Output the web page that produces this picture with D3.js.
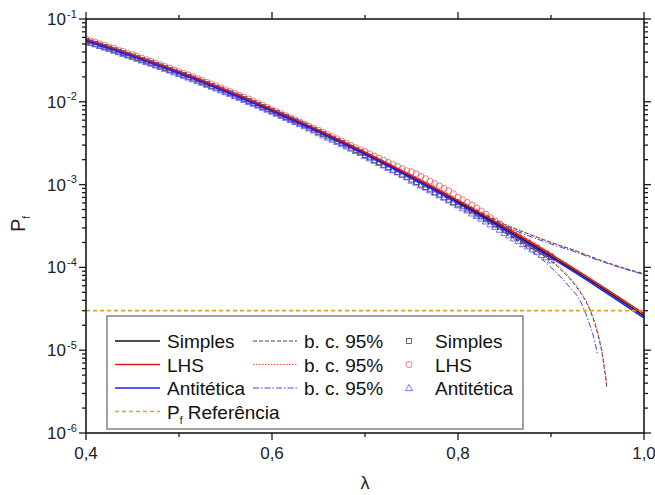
<!DOCTYPE html>
<html>
<head>
<meta charset="utf-8">
<script src="https://cdn.jsdelivr.net/npm/d3@7/dist/d3.min.js"></script>
<style>
  html, body { margin: 0; padding: 0; background: #fff; }
  svg { display: block; font-family: "Liberation Sans", Arial, sans-serif; }
</style>
</head>
<body>
<svg id="chart" width="655" height="495"></svg>
<script>
// ---- data -------------------------------------------------------------
// fitted curves, lambda every 0.05
const lineLambda = [0.40, 0.45, 0.50, 0.55, 0.60, 0.65, 0.70, 0.75, 0.80, 0.85, 0.90, 0.95, 1.00];
const simplesLine = [5.55e-2, 3.60e-2, 2.25e-2, 1.35e-2, 7.85e-3, 4.40e-3, 2.37e-3, 1.23e-3, 6.17e-4, 2.96e-4, 1.37e-4, 6.1e-5, 2.6e-5];
const lhsLine     = [5.65e-2, 3.66e-2, 2.30e-2, 1.39e-2, 8.10e-3, 4.55e-3, 2.46e-3, 1.28e-3, 6.40e-4, 3.08e-4, 1.44e-4, 6.4e-5, 2.75e-5];
const antiLine    = [5.48e-2, 3.55e-2, 2.22e-2, 1.33e-2, 7.75e-3, 4.33e-3, 2.33e-3, 1.20e-3, 5.98e-4, 2.85e-4, 1.31e-4, 5.8e-5, 2.45e-5];

// 95% confidence bounds
const upperLambda = [0.40, 0.50, 0.60, 0.70, 0.75, 0.80, 0.825, 0.85, 0.875, 0.90, 0.925, 0.95, 0.975, 1.00];
const simplesUpper = [5.70e-2, 2.31e-2, 8.05e-3, 2.44e-3, 1.27e-3, 6.48e-4, 4.60e-4, 3.30e-4, 2.55e-4, 2.00e-4, 1.61e-4, 1.26e-4, 1.01e-4, 8.4e-5];
const lhsUpper     = [5.78e-2, 2.35e-2, 8.20e-3, 2.50e-3, 1.31e-3, 6.65e-4, 4.70e-4, 3.36e-4, 2.58e-4, 2.01e-4, 1.60e-4, 1.25e-4, 1.00e-4, 8.3e-5];
const antiUpper    = [5.60e-2, 2.27e-2, 7.90e-3, 2.38e-3, 1.23e-3, 6.25e-4, 4.45e-4, 3.18e-4, 2.43e-4, 1.92e-4, 1.55e-4, 1.23e-4, 9.9e-5, 8.2e-5];

const lowerLambda = [0.40, 0.50, 0.60, 0.70, 0.75, 0.80, 0.825, 0.85, 0.875, 0.90, 0.92, 0.93, 0.94, 0.95, 0.955, 0.96];
const simplesLower = [5.40e-2, 2.19e-2, 7.65e-3, 2.30e-3, 1.19e-3, 5.90e-4, 4.05e-4, 2.70e-4, 1.80e-4, 1.20e-4, 7.3e-5, 5.3e-5, 3.4e-5, 1.6e-5, 9.0e-6, 3.6e-6];
const lhsLower     = [5.52e-2, 2.25e-2, 7.80e-3, 2.36e-3, 1.22e-3, 6.05e-4, 4.15e-4, 2.78e-4, 1.86e-4, 1.24e-4, 7.6e-5, 5.5e-5, 3.5e-5, 1.7e-5, 9.5e-6, 4.0e-6];
const antiLowerLambda = [0.40, 0.50, 0.60, 0.70, 0.75, 0.80, 0.825, 0.85, 0.875, 0.90, 0.92, 0.93, 0.94, 0.945, 0.95];
const antiLower    = [5.32e-2, 2.16e-2, 7.55e-3, 2.26e-3, 1.16e-3, 5.72e-4, 3.92e-4, 2.62e-4, 1.70e-4, 1.00e-4, 5.8e-5, 4.2e-5, 2.3e-5, 1.55e-5, 9.0e-6];

// simulated estimates, lambda = 0.400 ... 0.900 every 0.005
const pointLambda = d3.range(0, 101).map(i => +(0.4 + i * 0.005).toFixed(3));
const simplesPts = [
  5.46e-2, 5.20e-2, 5.01e-2, 4.78e-2, 4.60e-2, 4.41e-2, 4.20e-2, 4.04e-2, 3.86e-2, 3.68e-2,
  3.53e-2, 3.37e-2, 3.21e-2, 3.08e-2, 2.94e-2, 2.80e-2, 2.68e-2, 2.55e-2, 2.43e-2, 2.32e-2,
  2.20e-2, 2.11e-2, 2.00e-2, 1.91e-2, 1.81e-2, 1.72e-2, 1.64e-2, 1.55e-2, 1.48e-2, 1.41e-2,
  1.33e-2, 1.27e-2, 1.19e-2, 1.14e-2, 1.08e-2, 1.02e-2, 9.65e-3, 9.18e-3, 8.64e-3, 8.20e-3,
  7.72e-3, 7.33e-3, 6.90e-3, 6.55e-3, 6.15e-3, 5.82e-3, 5.48e-3, 5.19e-3, 4.86e-3, 4.60e-3,
  4.31e-3, 4.08e-3, 3.82e-3, 3.60e-3, 3.37e-3, 3.18e-3, 2.97e-3, 2.79e-3, 2.61e-3, 2.46e-3,
  2.27e-3, 2.13e-3, 1.98e-3, 1.86e-3, 1.73e-3, 1.62e-3, 1.51e-3, 1.42e-3, 1.32e-3, 1.24e-3,
  1.15e-3, 1.07e-3, 1.00e-3, 9.30e-4, 8.75e-4, 8.05e-4, 7.60e-4, 7.00e-4, 6.60e-4, 6.10e-4,
  5.75e-4, 5.45e-4, 5.00e-4, 4.75e-4, 4.35e-4, 4.12e-4, 3.80e-4, 3.60e-4, 3.30e-4, 3.12e-4,
  2.85e-4, 2.70e-4, 2.45e-4, 2.30e-4, 2.10e-4, 1.98e-4, 1.80e-4, 1.70e-4, 1.55e-4, 1.45e-4, 1.33e-4
];
const lhsPts = [
  5.70e-2, 5.45e-2, 5.25e-2, 5.01e-2, 4.82e-2, 4.60e-2, 4.43e-2, 4.22e-2, 4.05e-2, 3.86e-2,
  3.70e-2, 3.53e-2, 3.38e-2, 3.22e-2, 3.09e-2, 2.94e-2, 2.81e-2, 2.67e-2, 2.56e-2, 2.43e-2,
  2.32e-2, 2.21e-2, 2.11e-2, 2.00e-2, 1.91e-2, 1.81e-2, 1.72e-2, 1.64e-2, 1.56e-2, 1.48e-2,
  1.40e-2, 1.33e-2, 1.26e-2, 1.20e-2, 1.14e-2, 1.08e-2, 1.02e-2, 9.58e-3, 9.05e-3, 8.55e-3,
  8.04e-3, 7.60e-3, 7.18e-3, 6.79e-3, 6.40e-3, 6.05e-3, 5.71e-3, 5.38e-3, 5.07e-3, 4.78e-3,
  4.55e-3, 4.28e-3, 4.03e-3, 3.79e-3, 3.57e-3, 3.36e-3, 3.15e-3, 2.97e-3, 2.79e-3, 2.62e-3,
  2.51e-3, 2.36e-3, 2.22e-3, 2.09e-3, 1.97e-3, 1.86e-3, 1.75e-3, 1.66e-3, 1.56e-3, 1.47e-3,
  1.43e-3, 1.35e-3, 1.26e-3, 1.18e-3, 1.10e-3, 1.03e-3, 9.60e-4, 9.00e-4, 8.40e-4, 7.80e-4,
  7.03e-4, 6.55e-4, 6.10e-4, 5.65e-4, 5.20e-4, 4.80e-4, 4.40e-4, 4.00e-4, 3.65e-4, 3.35e-4,
  3.00e-4, 2.78e-4, 2.58e-4, 2.38e-4, 2.20e-4, 2.04e-4, 1.88e-4, 1.74e-4, 1.60e-4, 1.48e-4, 1.37e-4
];
const antiPts = [
  5.40e-2, 5.16e-2, 4.95e-2, 4.74e-2, 4.53e-2, 4.35e-2, 4.16e-2, 3.98e-2, 3.80e-2, 3.64e-2,
  3.48e-2, 3.32e-2, 3.17e-2, 3.03e-2, 2.90e-2, 2.76e-2, 2.64e-2, 2.51e-2, 2.40e-2, 2.28e-2,
  2.18e-2, 2.07e-2, 1.97e-2, 1.88e-2, 1.78e-2, 1.70e-2, 1.61e-2, 1.53e-2, 1.46e-2, 1.38e-2,
  1.31e-2, 1.25e-2, 1.18e-2, 1.12e-2, 1.06e-2, 1.00e-2, 9.50e-3, 9.02e-3, 8.52e-3, 8.06e-3,
  7.62e-3, 7.20e-3, 6.80e-3, 6.42e-3, 6.06e-3, 5.72e-3, 5.40e-3, 5.09e-3, 4.79e-3, 4.51e-3,
  4.19e-3, 3.95e-3, 3.71e-3, 3.50e-3, 3.29e-3, 3.09e-3, 2.90e-3, 2.73e-3, 2.56e-3, 2.41e-3,
  2.22e-3, 2.08e-3, 1.95e-3, 1.83e-3, 1.71e-3, 1.60e-3, 1.50e-3, 1.41e-3, 1.32e-3, 1.23e-3,
  1.12e-3, 1.06e-3, 9.80e-4, 9.25e-4, 8.55e-4, 8.05e-4, 7.45e-4, 7.00e-4, 6.48e-4, 6.08e-4,
  5.65e-4, 5.20e-4, 4.90e-4, 4.50e-4, 4.20e-4, 3.90e-4, 3.60e-4, 3.32e-4, 3.10e-4, 2.86e-4,
  2.62e-4, 2.45e-4, 2.25e-4, 2.10e-4, 1.92e-4, 1.80e-4, 1.66e-4, 1.55e-4, 1.42e-4, 1.33e-4, 1.22e-4
];

const pfReference = 3.0e-5;

const xTicksMajor = [0.4, 0.6, 0.8, 1.0];
const xTicksMinor = [0.5, 0.7, 0.9];
const xTickLabels = ["0,4", "0,6", "0,8", "1,0"];
const yDecades = [1e-6, 1e-5, 1e-4, 1e-3, 1e-2, 1e-1];
const yExponents = ["-6", "-5", "-4", "-3", "-2", "-1"];

const legendRows = [
  { name: "Simples",    color: "#111111", band: "4,2",       bandColor: "#444444", marker: "square" },
  { name: "LHS",        color: "#e01818", band: "1.5,1.5",   bandColor: "#e04848", marker: "circle" },
  { name: "Antitética", color: "#2222ee", band: "6,2,1.5,2", bandColor: "#4444dd", marker: "triangle" }
];

// ---- layout -------------------------------------------------------------
const svg = d3.select("#chart");
const X0 = 86, X1 = 644, Y0 = 433, Y1 = 19;
const x = d3.scaleLinear().domain([0.4, 1.0]).range([X0, X1]);
const y = d3.scaleLog().domain([1e-6, 1e-1]).range([Y0, Y1]);

const plot = svg.append("g");
plot.append("clipPath").attr("id", "clip")
  .append("rect").attr("x", X0).attr("y", Y1).attr("width", X1 - X0).attr("height", Y0 - Y1);
const inner = plot.append("g").attr("clip-path", "url(#clip)");

const lineGen = (xs) => d3.line()
  .x((d, i) => x(xs[i]))
  .y(d => y(d))
  .curve(d3.curveMonotoneX);

// markers
const markerColor = { square: "#3a3a3a", circle: "#e85050", triangle: "#4a4ae8" };
function drawMarker(g, type, cx, cy) {
  if (type === "square") {
    g.append("rect").attr("x", cx - 2.4).attr("y", cy - 2.4).attr("width", 4.8).attr("height", 4.8)
      .attr("fill", "none").attr("stroke", markerColor.square).attr("stroke-width", 0.75);
  } else if (type === "circle") {
    g.append("circle").attr("cx", cx).attr("cy", cy).attr("r", 3.0)
      .attr("fill", "none").attr("stroke", markerColor.circle).attr("stroke-width", 0.75);
  } else {
    g.append("path").attr("d", d3.symbol(d3.symbolTriangle, 22)())
      .attr("transform", `translate(${cx},${cy + 0.6})`)
      .attr("fill", "none").attr("stroke", markerColor.triangle).attr("stroke-width", 0.75);
  }
}
const ptsG = inner.append("g");
[[lhsPts, "circle"], [simplesPts, "square"], [antiPts, "triangle"]].forEach(([vals, type]) => {
  vals.forEach((v, i) => drawMarker(ptsG, type, x(pointLambda[i]), y(v)));
});

// confidence bounds
const bands = [
  [upperLambda, simplesUpper, 0], [lowerLambda, simplesLower, 0],
  [upperLambda, lhsUpper, 1], [lowerLambda, lhsLower, 1],
  [upperLambda, antiUpper, 2], [antiLowerLambda, antiLower, 2]
];
bands.forEach(([xs, vals, r]) => {
  inner.append("path").attr("d", lineGen(xs)(vals))
    .attr("fill", "none").attr("stroke", legendRows[r].bandColor)
    .attr("stroke-width", 1).attr("stroke-dasharray", legendRows[r].band);
});

// fitted curves
[[simplesLine, 0], [lhsLine, 1], [antiLine, 2]].forEach(([vals, r]) => {
  inner.append("path").attr("d", lineGen(lineLambda)(vals))
    .attr("fill", "none").attr("stroke", legendRows[r].color).attr("stroke-width", 1.6);
});

// reference probability
inner.append("line")
  .attr("x1", X0).attr("x2", X1).attr("y1", y(pfReference)).attr("y2", y(pfReference))
  .attr("stroke", "#f39a1e").attr("stroke-width", 1.8).attr("stroke-dasharray", "4,3");

// ---- axes -------------------------------------------------------------
const axisColor = "#1a1a1a";
const axisG = svg.append("g");
axisG.append("rect").attr("x", X0).attr("y", Y1).attr("width", X1 - X0).attr("height", Y0 - Y1)
  .attr("fill", "none").attr("stroke", axisColor).attr("stroke-width", 1.6);

function tick(x1, y1, x2, y2) {
  axisG.append("line").attr("x1", x1).attr("y1", y1).attr("x2", x2).attr("y2", y2)
    .attr("stroke", axisColor).attr("stroke-width", 1.3);
}
xTicksMajor.forEach(v => { tick(x(v), Y0, x(v), Y0 + 7); tick(x(v), Y1, x(v), Y1 - 7); });
xTicksMinor.forEach(v => { tick(x(v), Y0, x(v), Y0 + 4); tick(x(v), Y1, x(v), Y1 - 4); });

yDecades.forEach((d, i) => {
  tick(X0, y(d), X0 - 7, y(d)); tick(X1, y(d), X1 + 7, y(d));
  if (i < yDecades.length - 1) {
    for (let m = 2; m <= 9; m++) {
      const yy = y(d * m);
      tick(X0, yy, X0 - 4, yy); tick(X1, yy, X1 + 4, yy);
    }
  }
});

// tick labels
xTicksMajor.forEach((v, i) => {
  svg.append("text").attr("x", x(v)).attr("y", 459).attr("text-anchor", "middle")
    .attr("font-size", 17).attr("fill", "#222").text(xTickLabels[i]);
});
yDecades.forEach((d, i) => {
  svg.append("text").attr("x", 66).attr("y", y(d) + 6)
    .attr("text-anchor", "end").attr("font-size", 17).attr("fill", "#222").text("10");
  svg.append("text").attr("x", 67).attr("y", y(d) - 1.5)
    .attr("font-size", 11).attr("fill", "#222").text(yExponents[i]);
});

// axis titles
svg.append("text").attr("x", (X0 + X1) / 2).attr("y", 489).attr("text-anchor", "middle")
  .attr("font-size", 18).attr("fill", "#222").text("λ");
const yt = svg.append("text").attr("transform", "translate(25,224) rotate(-90)")
  .attr("text-anchor", "middle").attr("font-size", 20).attr("fill", "#222");
yt.append("tspan").text("P");
yt.append("tspan").attr("font-size", 10).attr("dy", 5).text("f");

// ---- legend -------------------------------------------------------------
const lg = svg.append("g");
lg.append("rect").attr("x", 107).attr("y", 316).attr("width", 416).attr("height", 113)
  .attr("fill", "#fff").attr("stroke", "#8a8a8a").attr("stroke-width", 1.6);
const rowY = i => 341 + i * 23.5;
const lfs = 19;
legendRows.forEach((r, i) => {
  const cy = rowY(i);
  lg.append("line").attr("x1", 115).attr("x2", 160).attr("y1", cy).attr("y2", cy)
    .attr("stroke", r.color).attr("stroke-width", 1.4);
  lg.append("text").attr("x", 167).attr("y", cy + 7).attr("font-size", lfs).attr("fill", "#111").text(r.name);
  lg.append("line").attr("x1", 253).attr("x2", 297).attr("y1", cy).attr("y2", cy)
    .attr("stroke", r.bandColor).attr("stroke-width", 1).attr("stroke-dasharray", r.band);
  lg.append("text").attr("x", 304).attr("y", cy + 7).attr("font-size", lfs).attr("fill", "#111").text("b. c. 95%");
  drawMarker(lg, r.marker, 409, cy);
  lg.append("text").attr("x", 435).attr("y", cy + 7).attr("font-size", lfs).attr("fill", "#111").text(r.name);
});
{
  const cy = rowY(3);
  lg.append("line").attr("x1", 115).attr("x2", 160).attr("y1", cy).attr("y2", cy)
    .attr("stroke", "#f39a1e").attr("stroke-width", 1.6).attr("stroke-dasharray", "4,3");
  const t = lg.append("text").attr("x", 167).attr("y", cy + 7).attr("font-size", lfs).attr("fill", "#111");
  t.append("tspan").text("P");
  t.append("tspan").attr("font-size", 10).attr("dy", 5).text("f");
  t.append("tspan").attr("dy", -5).text(" Referência");
}
</script>
</body>
</html>
